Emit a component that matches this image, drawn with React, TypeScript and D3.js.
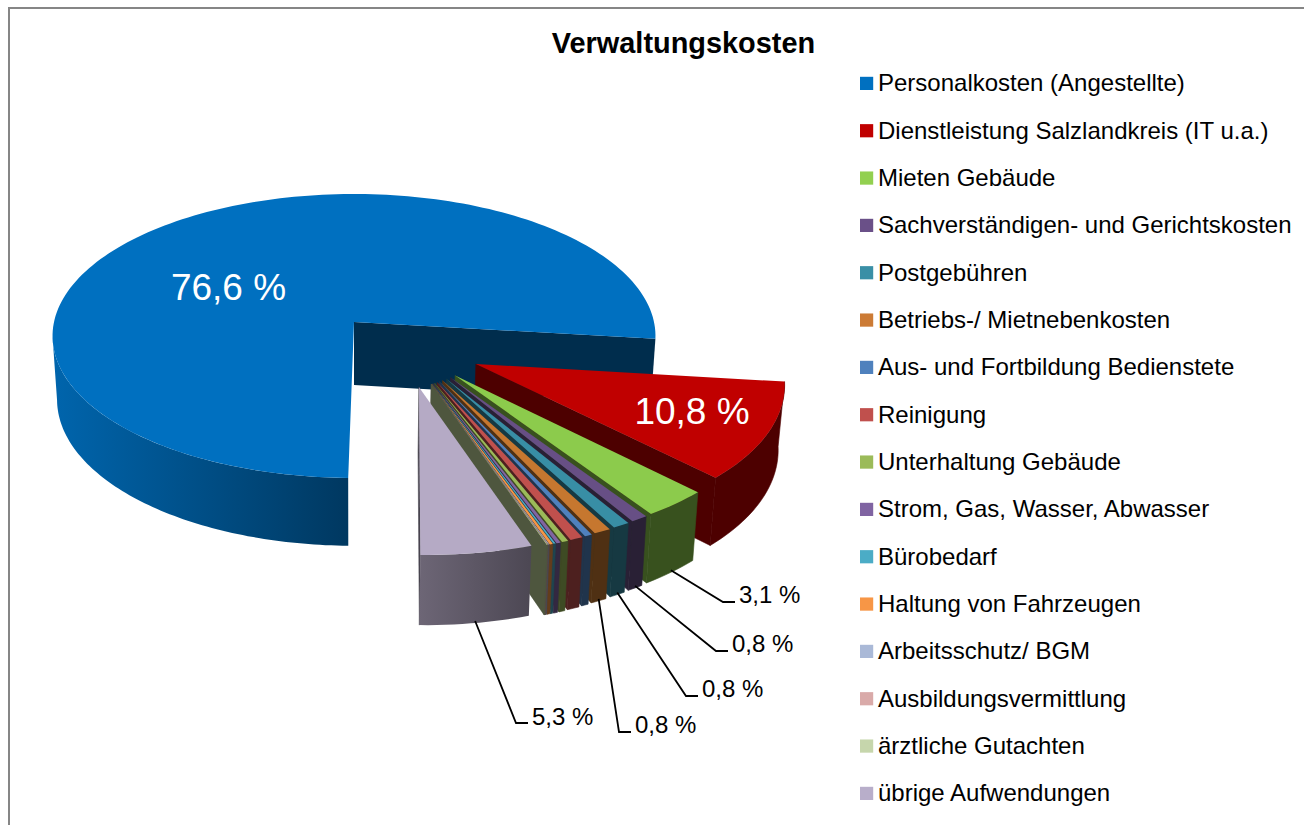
import React from "react";
import * as d3 from "d3";

const categories = [
  "Personalkosten (Angestellte)",
  "Dienstleistung Salzlandkreis (IT u.a.)",
  "Mieten Gebäude",
  "Sachverständigen- und Gerichtskosten",
  "Postgebühren",
  "Betriebs-/ Mietnebenkosten",
  "Aus- und Fortbildung Bedienstete",
  "Reinigung",
  "Unterhaltung Gebäude",
  "Strom, Gas, Wasser, Abwasser",
  "Bürobedarf",
  "Haltung von Fahrzeugen",
  "Arbeitsschutz/ BGM",
  "Ausbildungsvermittlung",
  "ärztliche Gutachten",
  "übrige Aufwendungen",
];
const shares = [76.6, 10.8, 3.1, 0.8, 0.8, 0.8, 0.35, 0.6, 0.3, 0.2, 0.1, 0.15, 0.04, 0.03, 0.03, 5.3];
const legendColors = [
  "#0070C0", "#C00000", "#92D050", "#6A5088", "#3A8FA6", "#CC7B35", "#4F81BD", "#C0504D",
  "#9BBB59", "#8064A2", "#4BACC6", "#F79646", "#AAB9D7", "#D9AAA9", "#C6D6AC", "#B8AECA",
];
const topColors = [
  "#0070C0", "#C00000", "#8CCB4C", "#674F85", "#388EA5", "#C6772F", "#4F81BD", "#C0504D",
  "#9BBB59", "#8064A2", "#4BACC6", "#F79646", "#AAB9D7", "#D9AAA9", "#C3D69B", "#B5AAC5",
];
const titleText = "Verwaltungskosten";
const insideLabels = [
  { index: 0, text: "76,6 %" },
  { index: 1, text: "10,8 %" },
];
const outsideLabels = [
  { index: 2, text: "3,1 %" },
  { index: 3, text: "0,8 %" },
  { index: 4, text: "0,8 %" },
  { index: 5, text: "0,8 %" },
  { index: 15, text: "5,3 %" },
];

const WIDTH = 1304;
const HEIGHT = 825;
const CX = 354;
const CY = 322;
const RX = 300;
const RY = 140.6;
const PERSP = 0.0986;
const EXPLODE = 0.49;
const DEPTH = 63;
const START = 181;
const deg = Math.PI / 180;

type P = [number, number];
type Q = { x: number; y: number; s: number };
const project = (u: number, v: number): Q => {
  const s = 1 / (1 - PERSP * v);
  return { x: CX + u * RX * s, y: CY + v * RY * s, s };
};
const down = (q: Q): P => [
  CX + (q.x - CX) * 0.985,
  q.y + DEPTH * (1 + (q.s - 1) * 0.7),
];

const pieGen = d3
  .pie<number>()
  .sort(null)
  .startAngle(START * deg)
  .endAngle((START + 360) * deg);
const arcs = pieGen(shares);

const dirScale = d3
  .scaleLinear()
  .domain([116.5, 141.5, 147, 161, 171.5])
  .range([126.5, 138.6, 140, 149.3, 155]);
const radiusScale = d3
  .scaleLinear()
  .domain([116.5, 141.5, 160, 171.5])
  .range([0.99, 1, 1, 0.98]);

const line = d3.line<P>().x((d) => d[0]).y((d) => d[1]);

const shade = (c: string, f: number) => {
  const r = d3.rgb(c);
  return d3.rgb(r.r * f, r.g * f, r.b * f).formatHex();
};

const slices = arcs.map((a, i) => {
  const a0 = a.startAngle / deg;
  const a1 = a.endAngle / deg;
  const bis = (a0 + a1) / 2;
  let du = 0;
  let dv = 0;
  let rad = 1;
  if (i > 0) {
    const d = dirScale(bis % 360) * deg;
    du = EXPLODE * Math.sin(d);
    dv = -EXPLODE * Math.cos(d);
    rad = radiusScale(bis % 360);
  }
  const at = (ang: number) =>
    project(du + rad * Math.sin(ang * deg), dv - rad * Math.cos(ang * deg));
  const apex = project(du, dv);
  const n = Math.max(2, Math.ceil((a1 - a0) / 1.5));
  const angs = d3.range(n + 1).map((k) => a0 + ((a1 - a0) * k) / n);
  const rim = angs.map(at);
  const top: P[] = [[apex.x, apex.y], ...rim.map((q) => [q.x, q.y] as P)];
  return { i, a0, a1, bis, apex, at, rim, top };
});

const wallPath = (pts: Q[]) =>
  line([
    ...pts.map((q) => [q.x, q.y] as P),
    ...pts.slice().reverse().map(down),
  ]) + "Z";

const blue = slices[0];
// outer wall runs from the cut edge to the leftmost point of the rim
const blueRimAll = d3.range(START, 300, 1).map((ang) => blue.at(ang));
const blueWallRim = blueRimAll.slice(0, d3.minIndex(blueRimAll, (q) => q.x) + 1);
const blueInner = wallPath([blue.apex, blue.at(blue.a1)]);
const legendY = d3.scaleLinear().domain([0, 15]).range([83.4, 793.4]);
const lastIdx = categories.length - 1;

const elbows: Record<number, { ex: number; ey: number; lx: number; tx: number; ty: number }> = {
  2: { ex: 723, ey: 602, lx: 735, tx: 739, ty: 603 },
  3: { ex: 716, ey: 651, lx: 728, tx: 732, ty: 652 },
  4: { ex: 686, ey: 696, lx: 698, tx: 702, ty: 697 },
  5: { ex: 619, ey: 732, lx: 631, tx: 635, ty: 733 },
  15: { ex: 516, ey: 723, lx: 528, tx: 532, ty: 725 },
};
const insidePos: Record<number, { x: number; y: number }> = {
  0: { x: 228.5, y: 300 },
  1: { x: 692, y: 424 },
};

export default function App() {
  const font = "'Liberation Sans', Arial, sans-serif";
  return (
    <svg
      width={WIDTH}
      height={HEIGHT}
      viewBox={`0 0 ${WIDTH} ${HEIGHT}`}
      style={{ position: "absolute", left: 0, top: 0, background: "#fff" }}
      fontFamily={font}
    >
      <defs>
        <linearGradient id="blueWall" gradientUnits="userSpaceOnUse" x1={52} x2={350} y1={0} y2={0}>
          <stop offset="0" stopColor={shade(topColors[0], 0.9)} />
          <stop offset="1" stopColor={shade(topColors[0], 0.5)} />
        </linearGradient>
        <linearGradient id="lilacWall" gradientUnits="userSpaceOnUse" x1={419} x2={532} y1={0} y2={0}>
          <stop offset="0" stopColor={shade(topColors[lastIdx], 0.6)} />
          <stop offset="1" stopColor={shade(topColors[lastIdx], 0.42)} />
        </linearGradient>
      </defs>
      <path d="M9 825V8H1304" fill="none" stroke="#868686" strokeWidth={2} />
      <text x={683.5} y={53} textAnchor="middle" fontSize={28.9} fontWeight="bold" fill="#000">
        {titleText}
      </text>

      {/* main slice */}
      <path d={wallPath(blueWallRim)} fill="url(#blueWall)" />
      <path d={blueInner} fill={shade(topColors[0], 0.4)} />
      <path d={line(blue.top) + "Z"} fill={topColors[0]} />

      {/* exploded slices, back to front */}
      {slices.slice(1).map((s) => {
        const isLilac = s.i === lastIdx;
        const wall = shade(topColors[s.i], 0.4);
        return (
          <g key={s.i}>
            <path
              d={wallPath([s.apex, s.rim[s.rim.length - 1]])}
              fill={wall}
              stroke={wall}
              strokeWidth={0.6}
            />
            <path
              d={wallPath(s.rim)}
              fill={isLilac ? "url(#lilacWall)" : wall}
              stroke={isLilac ? "none" : wall}
              strokeWidth={0.6}
            />
            <path d={line(s.top) + "Z"} fill={topColors[s.i]} />
          </g>
        );
      })}

      {/* inside labels */}
      {insideLabels.map((l) => (
        <text
          key={l.index}
          x={insidePos[l.index].x}
          y={insidePos[l.index].y}
          textAnchor="middle"
          fontSize={37}
          fill="#fff"
        >
          {l.text}
        </text>
      ))}

      {/* leader lines */}
      {outsideLabels.map((l) => {
        const s = slices[l.index];
        const b = down(s.at(s.bis));
        const e = elbows[l.index];
        const pts: P[] = [[b[0], b[1] - 2], [e.ex, e.ey], [e.lx, e.ey]];
        return (
          <g key={l.index}>
            <path d={line(pts) as string} fill="none" stroke="#000" strokeWidth={1.8} />
            <text x={e.tx} y={e.ty} fontSize={24} fill="#000">
              {l.text}
            </text>
          </g>
        );
      })}

      {/* legend */}
      {categories.map((c, i) => (
        <g key={c}>
          <rect x={860} y={legendY(i) - 6.6} width={13.2} height={13.2} fill={legendColors[i]} />
          <text x={878} y={legendY(i) + 8} fontSize={24} fill="#000">
            {c}
          </text>
        </g>
      ))}
    </svg>
  );
}
